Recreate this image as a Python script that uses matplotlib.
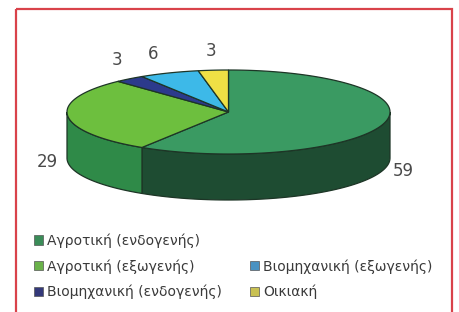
import numpy as np
import matplotlib
matplotlib.use("Agg")
import matplotlib.pyplot as plt
from matplotlib.patches import Polygon, Rectangle, Patch

# data
categories = [
    "Αγροτική (ενδογενής)",
    "Αγροτική (εξωγενής)",
    "Βιομηχανική (ενδογενής)",
    "Βιομηχανική (εξωγενής)",
    "Οικιακή",
]
values = [59, 29, 3, 6, 3]
top_colors = ["#3a9a62", "#6dbf3e", "#2c3a8c", "#3db9e8", "#efe045"]
side_colors = ["#1e4c32", "#2f8a48", "#1e2a66", "#2a8fbf", "#b8ad2a"]
legend_colors = ["#3a8c58", "#6ab24a", "#34397a", "#4a92c2", "#c9c152"]

# geometry of the 3d pie (pixels)
CX, CY = 228.5, 112.0
A, B = 161.5, 42.0
DEPTH = 46.0
EDGE = "#1d3526"

plt.rcParams["font.family"] = ["DejaVu Sans"]

fig = plt.figure(figsize=(4.59, 3.12), dpi=100)
ax = fig.add_axes([0, 0, 1, 1])
ax.set_xlim(0, 459)
ax.set_ylim(312, 0)
ax.axis("off")


def ell(theta, dy=0.0):
    t = np.radians(theta)
    return CX + A * np.sin(t), CY - B * np.cos(t) + dy


fracs = np.array(values) / np.sum(values) * 360.0
starts = np.concatenate([[0.0], np.cumsum(fracs)[:-1]])

# side faces (front half only: 90..270 deg clockwise from top)
for st, fr, sc in zip(starts, fracs, side_colors):
    lo, hi = max(st, 90.0), min(st + fr, 270.0)
    if hi <= lo:
        continue
    th = np.linspace(lo, hi, 80)
    x, y = ell(th)
    xb, yb = ell(th[::-1], DEPTH)
    pts = np.column_stack([np.concatenate([x, xb]), np.concatenate([y, yb])])
    ax.add_patch(Polygon(pts, closed=True, facecolor=sc, edgecolor=EDGE, lw=0.9))

# top faces
for st, fr, tc in zip(starts, fracs, top_colors):
    th = np.linspace(st, st + fr, max(int(fr), 4) + 2)
    x, y = ell(th)
    pts = np.column_stack([np.concatenate([[CX], x]), np.concatenate([[CY], y])])
    ax.add_patch(Polygon(pts, closed=True, facecolor=tc, edgecolor=EDGE, lw=0.9))

# value labels
for i, (st, fr, v) in enumerate(zip(starts, fracs, values)):
    mid = st + fr / 2
    t = np.radians(mid)
    k = 1.26 if i == 3 else 1.13
    lx = CX + A * k * np.sin(t)
    ly = CY - B * 1.13 * np.cos(t) + (DEPTH if np.cos(t) < 0 else -14)
    ax.text(lx, ly, str(v), ha="center", va="center", fontsize=12, color="#4a4a4a")

# legends
handles = [Patch(facecolor=c, edgecolor="#555555", lw=0.5) for c in legend_colors]
leg_kw = dict(frameon=False, fontsize=10, handlelength=0.65, handleheight=0.65,
              handletextpad=0.3, labelspacing=0.8, borderpad=0, borderaxespad=0,
              labelcolor="#3a3a3a")
leg1 = ax.legend([handles[0], handles[1], handles[2]],
                 [categories[0], categories[1], categories[2]],
                 loc="upper left", bbox_to_anchor=(34 / 459, 1 - 233.5 / 312), **leg_kw)
ax.add_artist(leg1)
ax.legend([handles[3], handles[4]], [categories[3], categories[4]],
          loc="upper left", bbox_to_anchor=(250 / 459, 1 - 259 / 312), **leg_kw)

# red frame
ax.add_patch(Rectangle((15.5, 8.5), 436, 320, fill=False, edgecolor="#d9424a", lw=1.6))

fig.savefig("out.png", dpi=100, facecolor="white")
